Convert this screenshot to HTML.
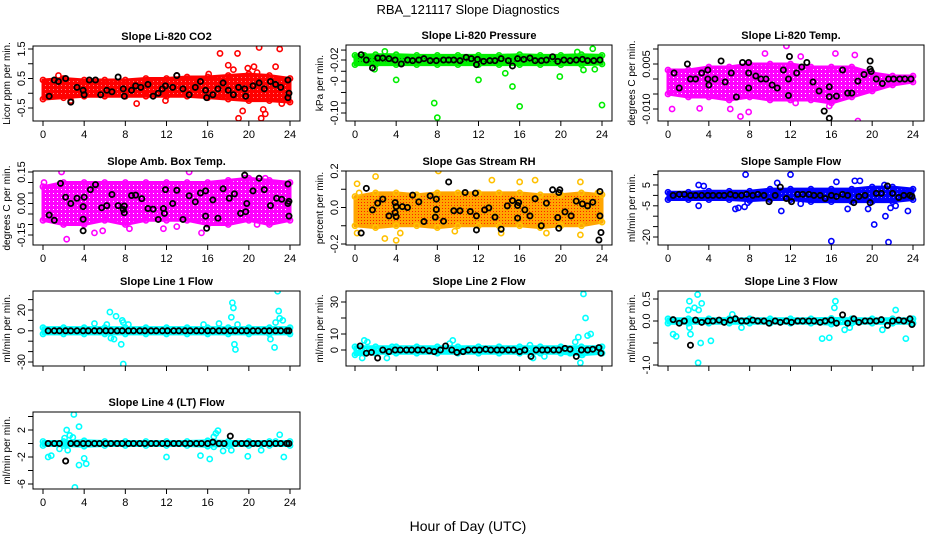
<!DOCTYPE html>
<html><head><meta charset="utf-8">
<style>
body{margin:0;background:#fff;}
svg{display:block;font-family:"Liberation Sans",sans-serif;}
</style></head>
<body>
<svg id="chart" width="936" height="540" viewBox="0 0 936 540" xmlns="http://www.w3.org/2000/svg">
<text x="468" y="14" text-anchor="middle" font-size="13">RBA_121117  Slope Diagnostics</text>
<text x="468" y="531" text-anchor="middle" font-size="14">Hour of Day (UTC)</text>
<g id="panels"></g>
</svg>
<script>
// ---- data ----
const xTicks = [0,4,8,12,16,20,24];
const bandHours = [0,2,4,6,8,10,12,14,16,18,20,22,24];
const blackHours = [0.5,1.1,1.6,2.2,2.7,3.3,3.9,4.4,5,5.5,6.1,6.6,7.2,7.7,8.3,8.8,9.4,9.9,10.5,11,11.6,12.1,12.7,13.2,13.8,14.3,14.9,15.4,16,16.5,17.1,17.6,18.2,18.7,19.3,19.8,20.4,20.9,21.5,22,22.6,23.1,23.7,23.9];

// Panel 1 CO2
const co2BandLo = [-0.2,-0.15,-0.1,-0.1,-0.1,-0.1,-0.1,-0.1,-0.15,-0.2,-0.25,-0.25,-0.3];
const co2BandHi = [0.45,0.5,0.45,0.45,0.45,0.5,0.5,0.55,0.55,0.6,0.65,0.6,0.5];
const co2OutX = [17.2,18.9,21,23,18,18.5,19.9,20.5,22.6,19,19.4,21.2,21.4,21.6,23.2,9.1,2.7,11.9,13,16.1,20.8,1.5];
const co2OutY = [1.35,1.35,1.55,1.5,0.95,0.8,0.85,0.9,0.9,-0.85,-0.6,-0.85,-0.55,-0.7,-0.35,-0.35,-0.25,-0.25,0.6,0.65,0.7,0.6];
const co2BlkX = [0.6,1.1,1.5,2.2,2.7,3.3,3.9,4,4.5,5.1,5.6,6.2,6.7,7.3,7.8,7.9,8.6,9,9.5,10.2,10.7,11.2,11.6,11.9,12.6,13,13.6,14.2,14.8,15.3,15.8,15.9,16.5,17,17.5,18,18.5,19,19.6,19.7,20.4,21,21.5,22.1,22.6,23.1,23.8,23.9,23.8];
const co2BlkY = [-0.1,0.45,0.4,0.5,-0.3,0.2,0.1,-0.05,0.45,0.45,-0.05,0.1,0.05,0.55,0.15,-0.1,0.1,0.25,0.2,0.3,-0.1,0,0.15,0.25,0.2,0.6,0.15,-0.05,0.2,0.4,0.1,-0.15,-0.05,0.15,0.35,0.1,-0.05,0.2,0.15,-0.1,0.25,0.35,0.15,0.4,0.3,0.2,0.45,0,-0.15];

// Panel 2 Pressure
const prsBandLo = [-0.027,-0.027,-0.027,-0.027,-0.027,-0.027,-0.027,-0.027,-0.027,-0.027,-0.027,-0.027,-0.026];
const prsBandHi = [-0.013,-0.012,-0.012,-0.013,-0.013,-0.013,-0.013,-0.013,-0.012,-0.013,-0.013,-0.012,-0.013];
const prsOutX = [2.9,4,7.7,8,12,14.6,15.3,16,19.9,22.2,23.3,24,23.1,21.6,1.9,0.9];
const prsOutY = [-0.007,-0.05,-0.085,-0.107,-0.05,-0.04,-0.06,-0.09,-0.045,-0.035,-0.034,-0.088,-0.003,-0.008,-0.034,-0.013];
const prsBlkX = [0.6,1.1,1.7,2.2,2.7,3.3,3.9,4.5,5.1,5.6,6.2,6.7,7.3,7.9,8.6,9.1,9.6,10.2,10.8,11.3,11.8,11.9,12.5,13.1,13.6,14.2,14.9,15.3,15.8,16.4,17,17.5,18.1,18.6,19.2,19.7,20.3,20.9,21.5,22.1,22.6,23.2,23.8];
const prsBlkY = [-0.012,-0.02,-0.032,-0.017,-0.017,-0.018,-0.02,-0.026,-0.02,-0.021,-0.02,-0.018,-0.021,-0.021,-0.02,-0.02,-0.02,-0.021,-0.016,-0.018,-0.027,-0.019,-0.022,-0.021,-0.021,-0.018,-0.021,-0.029,-0.018,-0.019,-0.017,-0.021,-0.021,-0.02,-0.015,-0.022,-0.02,-0.021,-0.02,-0.019,-0.021,-0.021,-0.02];

// Panel 3 Li-820 Temp
const tmpBandLo = [-0.005,-0.006,-0.006,-0.007,-0.006,-0.007,-0.007,-0.007,-0.008,-0.006,-0.004,-0.002,-0.001];
const tmpBandHi = [0.003,0.003,0.004,0.004,0.005,0.005,0.005,0.004,0.004,0.004,0.002,0.001,0.001];
const tmpOutX = [11.6,9.5,16.4,18.3,13,0.4,7.1,7.9,12.5,18.6,3.1,15.8,6.1];
const tmpOutY = [0.011,0.0085,0.0085,0.008,0.0075,-0.01,-0.0125,-0.011,-0.008,-0.014,-0.0098,-0.009,-0.01];
const tmpBlkX = [0.6,1.1,1.9,2.2,2.7,3.3,3.9,3.9,4,4.6,5.2,5.6,6.2,6.7,7.3,7.9,7.9,7.9,8.6,9.1,9.6,10.2,10.7,11.3,11.8,11.8,11.9,12.6,13.1,13.6,14.2,14.8,15.3,15.8,15.8,15.8,16.5,17.1,17.6,18,18.6,19.2,19.8,19.8,19.9,20.4,21,21.6,22.1,22.7,23.2,23.8];
const tmpBlkY = [0.002,-0.003,0.005,0,0,0.002,0.003,0,-0.002,0,0.006,-0.001,0.002,-0.006,0.0055,0.0055,0.002,-0.003,0.001,0,0,-0.002,-0.003,0.003,0,-0.0055,0.0075,0.002,0.004,0.0055,-0.001,-0.004,-0.0107,-0.0131,-0.0059,-0.0026,-0.0057,0.003,-0.0047,-0.0047,-0.0007,0.0015,0.006,0.0033,0.0025,0,-0.0015,0,0,0,0,0];

// Panel 4 Amb Box Temp
const boxBandLo = [-0.08,-0.1,-0.1,-0.08,-0.1,-0.08,-0.08,-0.08,-0.1,-0.1,-0.08,-0.1,-0.08];
const boxBandHi = [0.08,0.1,0.1,0.1,0.1,0.1,0.1,0.1,0.1,0.11,0.12,0.11,0.1];
const boxOutX = [1.8,2.3,14.2,5,3.4,5.8,8.4,11.7,13,15.4,20.8,21.6,19.6,0.1,2.6];
const boxOutY = [0.15,-0.17,0.15,-0.14,-0.09,-0.13,-0.12,-0.12,-0.11,-0.14,-0.1,0.12,0.12,0.1,0.09];
const boxBlkX = [0.6,1.1,1.7,2.2,2.7,3.3,3.9,3.9,3.9,4,4.6,5.1,5.7,6.2,6.7,7.3,7.8,7.9,7.9,8.6,9,9.6,10.2,10.7,11.2,11.7,11.8,11.9,12.6,13,13.6,14.2,14.8,15.3,15.8,15.8,15.9,16.5,17,17.5,18.1,18.6,19.2,19.6,19.7,19.8,20.4,21,21.5,22.1,22.7,23.2,23.8,23.9,23.8,23.9];
const boxBlkY = [-0.055,-0.08,0.096,0.03,0,0.025,-0.075,-0.13,-0.015,0.03,0.066,0.09,-0.02,-0.01,0.043,-0.01,-0.028,-0.012,-0.044,0.038,0.04,0.023,-0.024,-0.027,-0.076,-0.024,-0.047,0.066,0,0.063,-0.076,0.037,0.008,0.05,0.06,-0.06,-0.118,0.017,-0.07,0.07,0.025,0.046,-0.047,0.135,-0.039,0,0.06,0.12,0.066,-0.01,0.025,0.02,0.093,0.01,0,-0.06];

// Panel 5 Gas Stream RH
const rhBandLo = [-0.1,-0.11,-0.1,-0.1,-0.11,-0.1,-0.1,-0.1,-0.1,-0.11,-0.1,-0.1,-0.08];
const rhBandHi = [0.06,0.08,0.08,0.07,0.08,0.08,0.08,0.08,0.08,0.07,0.07,0.08,0.07];
const rhOutX = [2,0.2,8.1,13.3,17.5,21.9,2.9,4,4.4,0.2,9.7,14.2,21.9,18.6,23.6,0.4,16];
const rhOutY = [0.17,0.13,0.2,0.15,0.15,0.14,-0.17,-0.18,-0.14,-0.14,-0.13,-0.14,-0.15,-0.14,0.08,0.08,0.14];
const rhBlkX = [0.6,1.1,1.7,2.2,2.7,3.3,3.9,3.9,4,4,4.6,5.1,5.6,6.2,6.7,7.3,7.8,7.9,7.9,8.6,9.1,9.6,10.2,10.7,11.2,11.7,11.8,11.8,12.6,13,13.6,14.2,14.8,15.3,15.8,15.8,15.9,16.5,17,17.5,18.1,18.6,19.2,19.7,19.8,19.8,19.9,20.4,21,21.5,22.1,22.6,23.1,23.8,23.8,23.9,23.7];
const rhBlkY = [-0.14,0.105,-0.013,0.024,0.046,-0.046,0.027,-0.028,-0.05,0.005,0.005,0,0.068,0.031,-0.077,0.064,-0.053,-0.011,0.046,-0.075,0.14,-0.018,-0.018,0.082,-0.022,0.079,-0.046,-0.123,-0.013,-0.002,-0.053,-0.119,0.009,0.038,0.011,-0.058,0.027,-0.013,-0.046,0.048,-0.1,0.024,0.097,-0.055,0.082,-0.114,0.097,-0.024,-0.046,0.035,0.02,0.009,0.029,0.088,-0.046,-0.137,-0.178];

// Panel 6 Sample Flow
const sfBandLo = [-2,-2,-2,-2,-2.5,-2,-2,-3,-3,-3,-3,-3,-2];
const sfBandHi = [1.5,1.5,2,2,2,3,3,3,3,3,4,4,3];
const sfOutX = [7.6,12,16,21.6,20.2,21.3,23.5,19.6,17.6,6.6,6.9,11.1,3,3,3.5,10.7,16.5,18.3,18.8,21.2,21.8,22.3,13,7.8,7.5];
const sfOutY = [10,10,-22,-22.5,-14,-10,-7.5,-6.5,-6.5,-6.5,-6,-7.5,-5,5,4.5,6,6.5,7,7,5,-6,-5,-4,-3.5,-5.5];
const sfBlkY = [0,0.5,0.5,0,0,0,0,0,0,0,0.5,0,0,0.5,0,0.5,0,-3,0,4,-1.5,-3,0.5,0.5,0.5,0,0,-1.5,0,-0.5,0.5,0,-3.5,-0.5,0,-3.5,1,1,4.5,1,-1,0,0,-0.5];

// Panel 7 Line 1
const l1BandLo = [-3,-3,-3,-3,-3,-3,-3,-3,-3,-3,-3,-3,-3];
const l1BandHi = [3,3,3,3,3,3,3,3,3,3,3,3,3];
const l1OutX = [6.5,7.1,7.7,7.6,7.8,7.8,5,6.2,8.3,6.6,6.9,18.4,18.5,18.3,18.6,18.7,18.9,22.8,22.9,23,23.3,22.5,22.6,22.1,17.1,15.6];
const l1OutY = [18,14,10,-13,-32,8,7,6,6,-7,-8,27,22,13,-13,-18,6,38,19,12,10,-16,8,-8,7,6];
const l1BlkY = [0,0,0,0,0,0,0,0,0,0,0,0,0,0,0,0,0,0,0,0,0,0,0,0,0,0,0,0,0,0,0,0,0,0,0,0,0,0,0,0,0,0,0,0];

// Panel 8 Line 2
const l2BandLo = [-3,-2,-2,-2,-2,-2,-2,-2,-2,-2,-2,-3,-2];
const l2BandHi = [2,2,2,2,2,2,2,2,2,2,2,2,2];
const l2OutX = [0.7,0.9,1.2,3.1,3.6,9.2,9.5,17,17.3,21.4,21.9,22.2,22.4,22.6,22.9,21.7,22.1,20.9,18.4];
const l2OutY = [-5,6,5,-5,2,4,6,3,-5,5,-8,35,20,9,10,8,-3,-2,-4];
const l2BlkY = [2.5,-2,-1.5,-5,0,-1,0,0,0,0,0,0,-0.5,-1,0,2.5,0,-1.5,-1,0,0,0,0.5,0,0,0,0,0,-1,0,-4,0,0,0,0,0,1,0.5,-4,0,0,0.5,1.5,-2];

// Panel 9 Line 3
const l3BandLo = [-0.05,-0.05,-0.05,-0.05,-0.05,-0.05,-0.05,-0.05,-0.07,-0.05,-0.05,-0.05,-0.05];
const l3BandHi = [0.05,0.05,0.05,0.05,0.05,0.05,0.05,0.05,0.06,0.05,0.05,0.05,0.05];
const l3OutX = [0.5,0.8,2.1,2,2.2,2.6,2.9,2.95,3.3,3.2,4.2,6.3,7.2,15.1,15.8,16.4,16.3,17.3,17.8,22.3,23.3,21,3,2.1];
const l3OutY = [-0.3,-0.35,0.45,0.25,-0.3,0.3,0.6,-0.95,0.4,-0.5,-0.45,0.15,-0.15,-0.4,-0.38,0.45,0.3,-0.2,-0.15,0.25,-0.4,-0.2,0.25,-0.15];
const l3BlkY = [0.03,-0.05,0,-0.55,0.02,-0.03,0,0,0.02,-0.03,0.02,0.05,0,0,0.02,0,0,-0.05,0,-0.03,0,-0.03,0,0,0,0,-0.03,0,0.02,-0.05,0.14,-0.05,0.05,-0.03,0,0,0,0.03,-0.1,0,0.02,0,0.05,-0.08];

// Panel 10 Line 4
const l4BandLo = [-0.3,-0.3,-0.4,-0.3,-0.3,-0.3,-0.3,-0.3,-0.4,-0.3,-0.3,-0.3,-0.3];
const l4BandHi = [0.3,0.3,0.4,0.3,0.3,0.3,0.3,0.3,0.4,0.3,0.3,0.3,0.3];
const l4OutX = [3,3.5,2.3,2.6,2.9,2.1,0.5,0.8,1.6,2.4,3.1,3.5,4,4.2,12,15.3,16.2,16.6,16.8,17,17.5,18.3,19.9,21.2,23,23.4,22.6,16.6];
const l4OutY = [4.3,2.5,2,1.2,0.9,0.8,-2,-1.8,-0.8,-1,-6.5,-3.2,-2.2,-3,-2,-1.8,-2.3,1,1.5,1.9,-1.1,-1,-1.9,-1,1.3,-2,0.3,-0.5];
const l4BlkY = [0,0,0,-2.6,0,0,0,0,0,0,0,0,0,0,0,0,0,0,0,0,0,0,0,0,0,0,0,0,0,0.2,0,0,1.1,0,0,0,0,0,0,0,0,0,0,0];

// ---- layout (not data) ----
const cols = [{l:33,r:300,x0:43,x24:290},{l:346,r:612,x0:355,x24:602},{l:658,r:924,x0:668,x24:913}];
const panels = [
 {name:'co2',title:'Slope Li-820 CO2',ylab:'Licor ppm per min.',c:0,t:46,b:121,cal:[1.5,49,-0.5,108],ticks:[-0.5,0,0.5,1,1.5],labs:['-0.5','','0.5','','1.5'],xl:true,color:'#ff0000',dot:'#ff8080',ps:4,lo:co2BandLo,hi:co2BandHi,ox:co2OutX,oy:co2OutY,bx:co2BlkX,by:co2BlkY},
 {name:'pressure',title:'Slope Li-820 Pressure',ylab:'kPa per min.',c:1,t:45,b:121,cal:[-0.02,60,-0.10,113],ticks:[-0.005,-0.02,-0.037,-0.052,-0.069,-0.085,-0.1],labs:['','-0.02','','-0','','','-0.10'],xl:true,color:'#00ee00',dot:'#008800',ps:3,lo:prsBandLo,hi:prsBandHi,ox:prsOutX,oy:prsOutY,bx:prsBlkX,by:prsBlkY},
 {name:'li820-temp',title:'Slope Li-820 Temp.',ylab:'degrees C per min.',c:2,t:45,b:121,cal:[0.005,64,-0.010,109],ticks:[0.01,0.005,0,-0.005,-0.01],labs:['','0.005','','','-0.010'],xl:true,color:'#ff00ff',dot:'#ffffff',ps:4,lo:tmpBandLo,hi:tmpBandHi,ox:tmpOutX,oy:tmpOutY,bx:tmpBlkX,by:tmpBlkY},
 {name:'box-temp',title:'Slope Amb. Box Temp.',ylab:'degrees C per min.',c:0,t:171,b:245,cal:[0.15,172,-0.15,235],ticks:[-0.15,-0.1,-0.05,0,0.05,0.1,0.15],labs:['-0.15','','','0.00','','','0.15'],xl:true,color:'#ff00ff',dot:'#ffffff',ps:4,lo:boxBandLo,hi:boxBandHi,ox:boxOutX,oy:boxOutY,bx:boxBlkX,by:boxBlkY},
 {name:'rh',title:'Slope Gas Stream RH',ylab:'percent per min.',c:1,t:171,b:245,cal:[0.2,171,-0.2,244],ticks:[-0.2,-0.1,0,0.1,0.2],labs:['-0.2','','0.0','','0.2'],xl:true,color:'#ffa500',dot:'#ff2000',ps:3,outColor:'#ffc000',lo:rhBandLo,hi:rhBandHi,ox:rhOutX,oy:rhOutY,bx:rhBlkX,by:rhBlkY},
 {name:'sample-flow',title:'Slope Sample Flow',ylab:'ml/min per min.',c:2,t:171,b:245,cal:[5,185,-20,237],ticks:[10,5,0,-5,-10,-15,-20],labs:['','5','','-5','','','-20'],xl:true,color:'#0000ff',dot:'#8080ff',ps:4,lo:sfBandLo,hi:sfBandHi,ox:sfOutX,oy:sfOutY,bx:blackHours,by:sfBlkY},
 {name:'line1-flow',title:'Slope Line 1 Flow',ylab:'ml/min per min.',c:0,t:291,b:366,cal:[20,310,-30,362],ticks:[30,20,10,0,-10,-20,-30],labs:['','20','','0','','','-30'],xl:false,color:'#00ffff',dot:'#b0ffff',ps:4,lo:l1BandLo,hi:l1BandHi,ox:l1OutX,oy:l1OutY,bx:blackHours,by:l1BlkY},
 {name:'line2-flow',title:'Slope Line 2 Flow',ylab:'ml/min per min.',c:1,t:291,b:366,cal:[30,302,0,350],ticks:[30,20,10,0],labs:['30','','10','0'],xl:false,color:'#00ffff',dot:'#b0ffff',ps:4,lo:l2BandLo,hi:l2BandHi,ox:l2OutX,oy:l2OutY,bx:blackHours,by:l2BlkY},
 {name:'line3-flow',title:'Slope Line 3 Flow',ylab:'ml/min per min.',c:2,t:291,b:366,cal:[0.5,299,-1.0,365],ticks:[0.5,0,-0.5,-1],labs:['0.5','0.0','','-1.0'],xl:false,color:'#00ffff',dot:'#b0ffff',ps:4,lo:l3BandLo,hi:l3BandHi,ox:l3OutX,oy:l3OutY,bx:blackHours,by:l3BlkY},
 {name:'line4-flow',title:'Slope Line 4 (LT) Flow',ylab:'ml/min per min.',c:0,t:412,b:489,cal:[2,430,-6,484],ticks:[4,2,0,-2,-4,-6],labs:['','2','','-2','','-6'],xl:true,color:'#00ffff',dot:'#b0ffff',ps:4,lo:l4BandLo,hi:l4BandHi,ox:l4OutX,oy:l4OutY,bx:blackHours,by:l4BlkY}
];

const NS='http://www.w3.org/2000/svg';
function mk(tag, attrs, parent){const e=document.createElementNS(NS,tag);for(const k in attrs)e.setAttribute(k,attrs[k]);parent.appendChild(e);return e;}
const root=document.getElementById('panels');
const defs=mk('defs',{},root);

panels.forEach(p=>{
  const col=cols[p.c];
  const xs=h=>col.x0+(h/24)*(col.x24-col.x0);
  const k=(p.cal[3]-p.cal[1])/(p.cal[2]-p.cal[0]);
  const ys=v=>p.cal[1]+(v-p.cal[0])*k;
  const g=mk('g',{},root);
  
  
  const clipId='clip-'+p.name;
  const cp=mk('clipPath',{id:clipId},defs);
  mk('rect',{x:col.l,y:p.t,width:col.r-col.l,height:p.b-p.t},cp);
  const tt=mk('text',{x:(col.l+col.r)/2,y:p.t-6,'text-anchor':'middle','font-size':'11','font-weight':'bold'},g);
  tt.textContent=p.title;
  
  
  const ymid=(p.t+p.b)/2;
  const yl=mk('text',{x:0,y:0,'text-anchor':'middle','font-size':'10',transform:`translate(${col.l-23},${ymid}) rotate(-90)`},g);
  yl.textContent=p.ylab;
  
  
  const mg=mk('g',{'clip-path':`url(#${clipId})`},g);
  
  
  let pts=[];
  bandHours.forEach((h,i)=>pts.push(xs(h)+','+ys(p.hi[i])));
  for(let i=bandHours.length-1;i>=0;i--)pts.push(xs(bandHours[i])+','+ys(p.lo[i]));
  const pid='pat-'+p.name;
  const s=p.ps;
  const pat=mk('pattern',{id:pid,width:s,height:s,patternUnits:'userSpaceOnUse'},defs);
  mk('rect',{width:s,height:s,fill:p.color},pat);
  mk('rect',{x:1,y:1,width:1,height:1,fill:p.dot},pat);
  const band=mk('polygon',{points:pts.join(' '),fill:`url(#${pid})`,stroke:p.color,'stroke-width':'3','stroke-linejoin':'round'},mg);
  
  
  bandHours.forEach((h,i)=>{
    [p.hi[i],p.lo[i]].forEach(v=>{
      const c=mk('circle',{cx:xs(h),cy:ys(v),r:2.6,fill:'none',stroke:p.outColor||p.color,'stroke-width':1.6},mg);
      
      
    });
  });
  p.ox.forEach((h,i)=>{
    const c=mk('circle',{cx:xs(h),cy:ys(p.oy[i]),r:2.6,fill:'none',stroke:p.outColor||p.color,'stroke-width':1.6},mg);
    
    
  });
  p.by.forEach((v,i)=>{
    const c=mk('circle',{cx:xs(p.bx[i]),cy:ys(v),r:2.6,fill:'none',stroke:'#000','stroke-width':1.8},mg);
    
    
  });
  const bx=mk('rect',{x:col.l,y:p.t,width:col.r-col.l,height:p.b-p.t,fill:'none',stroke:'#000','stroke-width':1},g);
  
  
  const xa=mk('g',{},g);
  
  
  mk('line',{x1:xs(0),x2:xs(24),y1:p.b,y2:p.b,stroke:'#000'},xa);
  xTicks.forEach(h=>{
    mk('line',{x1:xs(h),x2:xs(h),y1:p.b,y2:p.b+5,stroke:'#000'},xa);
    if(p.xl){const t=mk('text',{x:xs(h),y:p.b+17,'text-anchor':'middle','font-size':'11'},xa);t.textContent=h;}
  });
  const ya=mk('g',{},g);
  
  
  const tp=p.ticks.map(ys);
  mk('line',{x1:col.l,x2:col.l,y1:Math.min(...tp),y2:Math.max(...tp),stroke:'#000'},ya);
  p.ticks.forEach((v,i)=>{
    const y=ys(v);
    mk('line',{x1:col.l-5,x2:col.l,y1:y,y2:y,stroke:'#000'},ya);
    if(p.labs[i]){const t=mk('text',{x:0,y:0,'text-anchor':'middle','font-size':'11',transform:`translate(${col.l-8},${y}) rotate(-90)`},ya);t.textContent=p.labs[i];}
  });
});
</script>
</body></html>
